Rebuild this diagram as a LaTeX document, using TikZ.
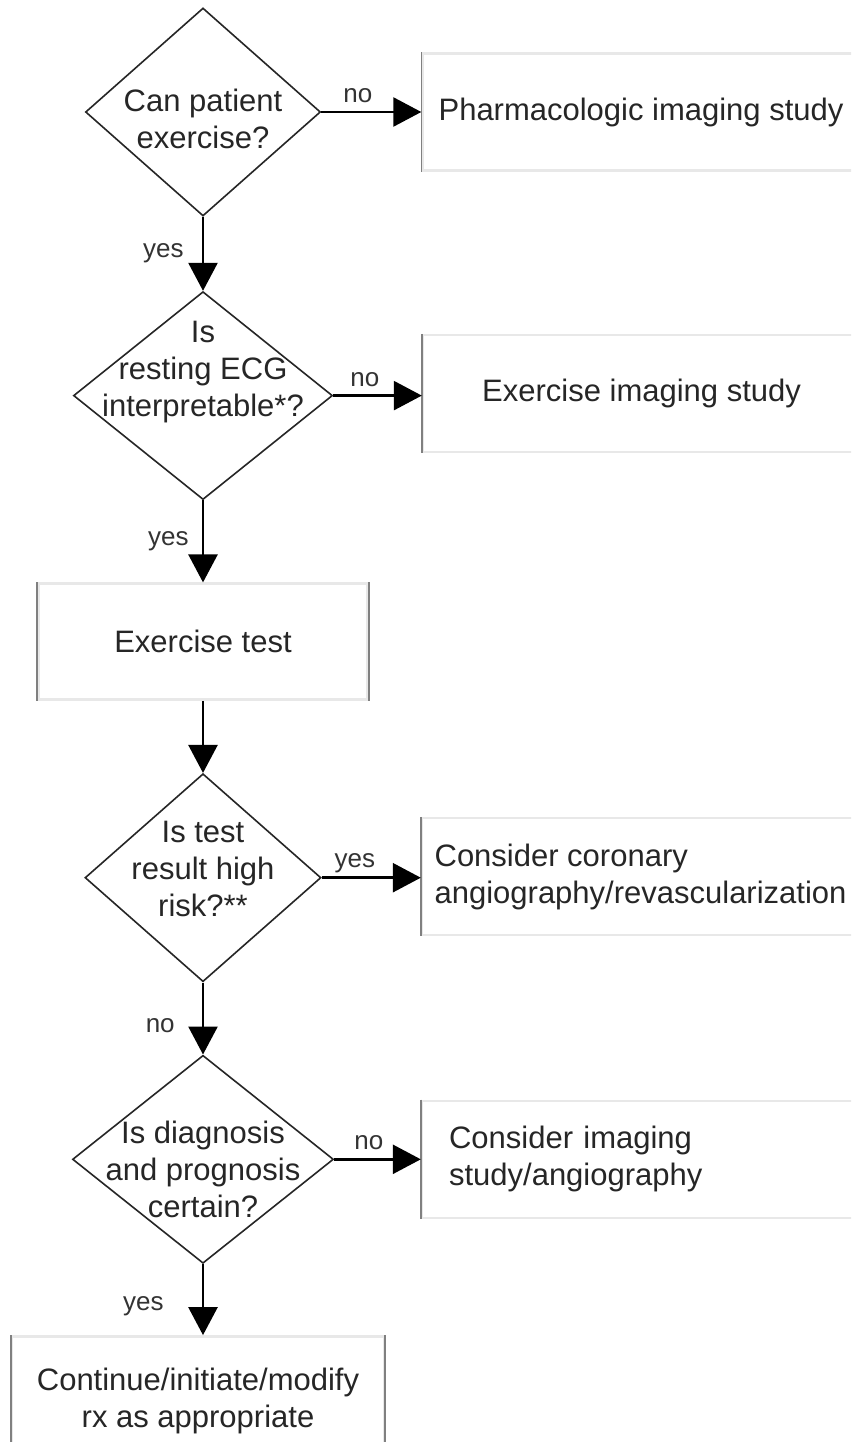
\documentclass[tikz,border=0pt]{standalone}
\usepackage{fontspec}
\setmainfont{Liberation Sans}
\usetikzlibrary{shapes.geometric,arrows.meta,positioning}
\newcommand{\flowfont}{\fontsize{31}{37}\selectfont}
\newcommand{\answerfont}{\fontsize{26}{30}\selectfont}
\tikzset{
  decision/.style={diamond, draw=black!85, line width=1.6pt, inner sep=0pt,
                   minimum width=236pt, minimum height=208pt},
  qtext/.style   ={align=center, font=\flowfont, text=black!85, inner sep=0pt},
  actbox/.style  ={rectangle, draw=black!9, line width=2.5pt, inner sep=0pt,
                   minimum width=437pt, minimum height=117pt, align=center,
                   font=\flowfont, text=black!85},
  boxside/.style ={draw=black!50, line width=1.6pt},
  flow/.style    ={-{Triangle[length=28pt,width=29pt]}, line width=2.6pt, draw=black},
  answer/.style  ={font=\answerfont, text=black!80, inner sep=0pt}
}

\begin{document}
\begin{tikzpicture}[x=1pt, y=-1pt]
  \useasboundingbox (0,0) rectangle (851,1442);
  \clip (0,0) rectangle (851,1442);
  \fill[white] (0,0) rectangle (851,1442);
  % main column
  \node[decision, minimum width=235pt] (canex) at (203,112) {};
  \node[decision, minimum width=259pt, below=74pt of canex] (ecgok) {};
  \node[actbox, minimum width=329pt, minimum height=116pt, below=82pt of ecgok] (extest) {Exercise test};
  \node[decision, below=72pt of extest] (highrisk) {};
  \node[decision, minimum width=261pt, below=72pt of highrisk] (certain) {};
  \node[actbox, minimum width=372pt, minimum height=130pt, below=71pt of certain, xshift=-5pt] (rxbox)
       {Continue/initiate/modify\\rx as appropriate};
  % question texts
  \node[qtext, yshift=-7pt] (canextxt) at (canex) {Can patient\\exercise?};
  \node[qtext, yshift=24pt] (ecgoktxt) at (ecgok) {Is\\resting ECG\\interpretable*?};
  \node[qtext, yshift=9pt] (highrisktxt) at (highrisk) {Is test\\result high\\risk?**};
  \node[qtext, yshift=-10pt] (certaintxt) at (certain) {Is diagnosis\\and prognosis\\certain?};
  % side boxes
  \node[actbox, right=100pt of canex] (pharm) {Pharmacologic imaging study};
  \node[actbox, right=88.5pt of ecgok, yshift=2pt] (eximg) {Exercise imaging study};
  \node[actbox, right=99pt of highrisk, yshift=1pt, align=left] (angio)
       {Consider coronary\\angiography/revascularization};
  \node[actbox, right=86.5pt of certain, text width=383pt, align=left] (imgstudy)
       {Consider imaging\\study/angiography};
  % box sides
  \draw[boxside] (pharm.north west) -- (pharm.south west);
  \draw[boxside] (eximg.north west) -- (eximg.south west);
  \draw[boxside] (angio.north west) -- (angio.south west);
  \draw[boxside] (imgstudy.north west) -- (imgstudy.south west);
  \draw[boxside] (extest.north west) -- (extest.south west);
  \draw[boxside] (extest.north east) -- (extest.south east);
  \draw[boxside] (rxbox.north west) -- (rxbox.south west);
  \draw[boxside] (rxbox.north east) -- (rxbox.south east);
  % connectors
  \draw[flow] (canex.east) -- (canex.east -| pharm.west)
    node[answer, pos=0.365, above=8pt] {no};
  \draw[flow] (canex.south) -- (ecgok.north)
    node[answer, pos=0.49, left=18pt] {yes};
  \draw[flow] (ecgok.east) -- (ecgok.east -| eximg.west)
    node[answer, pos=0.356, above=8pt] {no};
  \draw[flow] (ecgok.south) -- (extest.north)
    node[answer, pos=0.5, left=13pt] {yes};
  \draw[flow] (extest.south) -- (highrisk.north);
  \draw[flow] (highrisk.east) -- (highrisk.east -| angio.west)
    node[answer, pos=0.335, above=4pt] {yes};
  \draw[flow] (highrisk.south) -- (certain.north)
    node[answer, pos=0.6, left=27pt] {no};
  \draw[flow] (certain.east) -- (certain.east -| imgstudy.west)
    node[answer, pos=0.4, above=8pt] {no};
  \draw[flow] (certain.south) -- (certain.south |- rxbox.north)
    node[answer, pos=0.59, left=38pt] {yes};
\end{tikzpicture}
\end{document}
